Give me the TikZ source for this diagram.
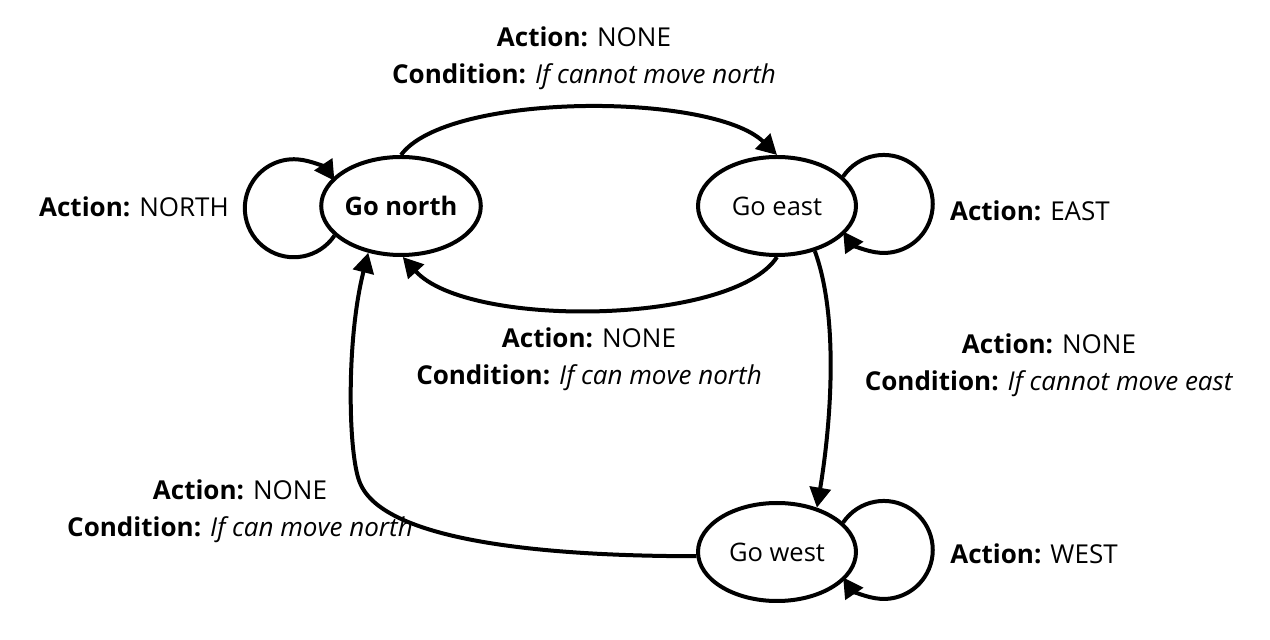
\documentclass[tikz,border=0pt]{standalone}
\usepackage{fontspec}
\setmainfont{Open Sans}
\usetikzlibrary{arrows.meta,shapes.geometric}
\begin{document}
\begin{tikzpicture}[x=1pt,y=1pt,
  state/.style={ellipse, draw, line width=4pt, fill=white, minimum width=158pt, minimum height=98pt, inner sep=0pt, font=\fontsize{25.5}{30}\selectfont},
  trans/.style={line width=4pt, -{Triangle[length=20pt,width=21pt]}},
  lbl/.style={align=center, font=\fontsize{26}{37}\selectfont, inner sep=0pt}]
\path[use as bounding box, fill=white] (0,0) rectangle (1270,640);

\node[state] (gn) at (401,434) {\textbf{Go north}};
\node[state] (ge) at (777,434) {Go east};
\node[state] (gw) at (777,88) {Go west};

% self loops
\draw[trans] (gn.204) arc[start angle=-34, end angle=-326, radius=49];
\draw[trans] (ge.24) arc[start angle=146, end angle=-146, radius=49];
\draw[trans] (gw.24) arc[start angle=146, end angle=-146, radius=49];

% transitions
\draw[trans] (gn.north) .. controls (447,548) and (712,548) .. (ge.north);
\draw[trans] (ge.south) .. controls (733,315) and (468,311) .. (gn.-88);
\draw[trans] (ge.-50) .. controls (840,320) and (830,210) .. (gw.48);
\draw[trans] (gw.183) .. controls (500,84) and (380,108) .. (360,157)
   .. controls (348,185) and (346,300) .. (gn.235);

% labels
\node[lbl] (lt) at (584,582) {\textbf{Action:} NONE\\\textbf{Condition:} \textit{If cannot move north}};
\node[lbl] (lm) at (589,281) {\textbf{Action:} NONE\\\textbf{Condition:} \textit{If can move north}};
\node[lbl] (lr) at (1049,275) {\textbf{Action:} NONE\\\textbf{Condition:} \textit{If cannot move east}};
\node[lbl] (lb) at (240,129) {\textbf{Action:} NONE\\\textbf{Condition:} \textit{If can move north}};
\node[lbl] (ln) at (134,433) {\textbf{Action:} NORTH};
\node[lbl] (le) at (1030,429) {\textbf{Action:} EAST};
\node[lbl] (lw) at (1034,86) {\textbf{Action:} WEST};
\end{tikzpicture}
\end{document}
